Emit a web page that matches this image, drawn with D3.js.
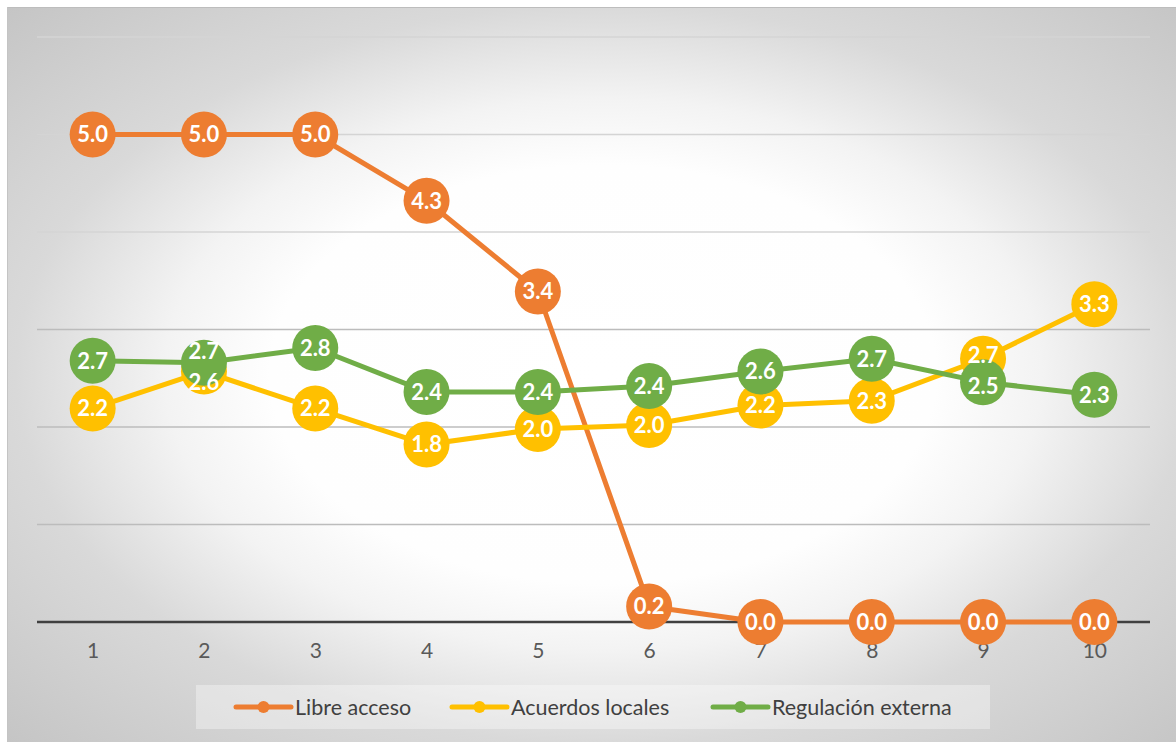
<!DOCTYPE html>
<html>
<head>
<meta charset="utf-8">
<script src="https://cdn.jsdelivr.net/npm/d3@7"></script>
<style>
  html, body { margin: 0; padding: 0; background: #ffffff; }
  svg { display: block; }
</style>
</head>
<body>
<svg id="chart" width="1176" height="742"></svg>
<script>
// Categories (x axis) and series values
const categories = [1, 2, 3, 4, 5, 6, 7, 8, 9, 10];
const libreAcceso = [5.0, 5.0, 5.0, 4.32, 3.39, 0.16, 0.0, 0.0, 0.0, 0.0];
const acuerdosLocales = [2.19, 2.57, 2.19, 1.82, 1.98, 2.02, 2.22, 2.27, 2.70, 3.26];
const regulacionExterna = [2.68, 2.66, 2.81, 2.36, 2.36, 2.42, 2.57, 2.70, 2.46, 2.33];
const seriesNames = ["Libre acceso", "Acuerdos locales", "Regulación externa"];
const seriesColors = ["#ED7D31", "#FFC000", "#70AD47"];
const yTicks = [0, 1, 2, 3, 4, 5, 6];

const series = [libreAcceso, acuerdosLocales, regulacionExterna].map((vals, i) => ({
  name: seriesNames[i],
  color: seriesColors[i],
  values: vals.map((v, j) => ({ x: categories[j], y: v }))
}));

const W = 1176, H = 742;
const frame = { x: 7, y: 7, w: W - 7, h: H - 7 };
const plot = { left: 37, right: 1150, top: 37, bottom: 622 };
const FONT = "Lato, 'Open Sans', sans-serif";

const svg = d3.select("#chart");
const defs = svg.append("defs");

// soft radial backdrop: white centre fading to grey edges
const grad = defs.append("radialGradient")
  .attr("id", "bg")
  .attr("cx", 0.51).attr("cy", 0.5).attr("r", 0.75)
  .attr("fx", 0.51).attr("fy", 0.5);
[[0, "#ffffff"], [0.38, "#fefefe"], [0.5, "#f3f3f3"], [0.67, "#d9d9d9"], [0.95, "#c5c5c5"], [1, "#c0c0c0"]]
  .forEach(([o, c]) => grad.append("stop").attr("offset", o).attr("stop-color", c));

svg.append("rect")
  .attr("x", frame.x).attr("y", frame.y)
  .attr("width", frame.w).attr("height", frame.h)
  .attr("fill", "url(#bg)");
svg.append("line")
  .attr("x1", frame.x).attr("x2", W)
  .attr("y1", frame.y + 0.5).attr("y2", frame.y + 0.5)
  .attr("stroke", "#bdbdbd").attr("stroke-width", 1);
svg.append("line")
  .attr("x1", frame.x + 0.5).attr("x2", frame.x + 0.5)
  .attr("y1", frame.y).attr("y2", H)
  .attr("stroke", "#c4c4c4").attr("stroke-width", 1);

const x = d3.scalePoint()
  .domain(categories)
  .range([plot.left, plot.right])
  .padding(0.5);

const y = d3.scaleLinear()
  .domain([0, 6])
  .range([plot.bottom, plot.top]);

// horizontal gridlines
svg.append("g")
  .selectAll("line")
  .data(yTicks.filter(t => t > 0))
  .join("line")
  .attr("x1", plot.left).attr("x2", plot.right)
  .attr("y1", d => y(d)).attr("y2", d => y(d))
  .attr("stroke", d => d >= 4 ? "#d4d4d4" : "#bcbcbc")
  .attr("stroke-width", 1.5);

// category axis
const xAxis = svg.append("g")
  .attr("transform", `translate(0,${y(0)})`)
  .call(d3.axisBottom(x).tickSize(0).tickPadding(21));
xAxis.select(".domain")
  .attr("d", `M${plot.left},0H${plot.right}`)
  .attr("stroke", "#404040").attr("stroke-width", 2.5);
xAxis.selectAll("text")
  .attr("font-family", FONT)
  .attr("font-size", 21)
  .attr("fill", "#595959");

const line = d3.line().x(d => x(d.x)).y(d => y(d.y));

const layer = svg.append("g");
series.forEach(s => {
  const g = layer.append("g");
  g.append("path")
    .datum(s.values)
    .attr("d", line)
    .attr("fill", "none")
    .attr("stroke", s.color)
    .attr("stroke-width", 5)
    .attr("stroke-linejoin", "round");
  g.selectAll("circle")
    .data(s.values)
    .join("circle")
    .attr("cx", d => x(d.x))
    .attr("cy", d => y(d.y))
    .attr("r", 23)
    .attr("fill", s.color);
});

// data labels, nudged apart where two sit too close together
const labels = [];
series.forEach((s, si) => s.values.forEach(d => {
  labels.push({ si, x: x(d.x), y: y(d.y), text: d3.format(".1f")(d.y) });
}));
d3.groups(labels, d => d.x).forEach(([, group]) => {
  group.sort((a, b) => a.y - b.y);
  for (let i = 1; i < group.length; i++) {
    const a = group[i - 1], b = group[i];
    if (b.y - a.y < 30) {
      const mid = (a.y + b.y) / 2;
      a.y = mid - 15.5;
      b.y = mid + 15.5;
    }
  }
});
svg.append("g")
  .selectAll("text")
  .data(labels)
  .join("text")
  .attr("x", d => d.x)
  .attr("y", d => d.y)
  .attr("dy", "0.36em")
  .attr("text-anchor", "middle")
  .attr("font-family", FONT)
  .attr("font-weight", "bold")
  .attr("font-size", 22)
  .attr("fill", "#ffffff")
  .text(d => d.text);

// legend
const legend = svg.append("g");
legend.append("rect")
  .attr("x", 196).attr("y", 685)
  .attr("width", 794).attr("height", 44)
  .attr("fill", "rgba(255,255,255,0.35)");
const legendX = [236, 452, 713];
series.forEach((s, i) => {
  const g = legend.append("g").attr("transform", `translate(${legendX[i]},707)`);
  g.append("line")
    .attr("x1", 0).attr("x2", 55)
    .attr("stroke", s.color).attr("stroke-width", 5)
    .attr("stroke-linecap", "round");
  g.append("circle").attr("cx", 27.5).attr("r", 6).attr("fill", s.color);
  g.append("text")
    .attr("x", 59)
    .attr("dy", "0.36em")
    .attr("font-family", FONT)
    .attr("font-size", 21.5)
    .attr("fill", "#404040")
    .text(s.name);
});
</script>
</body>
</html>
